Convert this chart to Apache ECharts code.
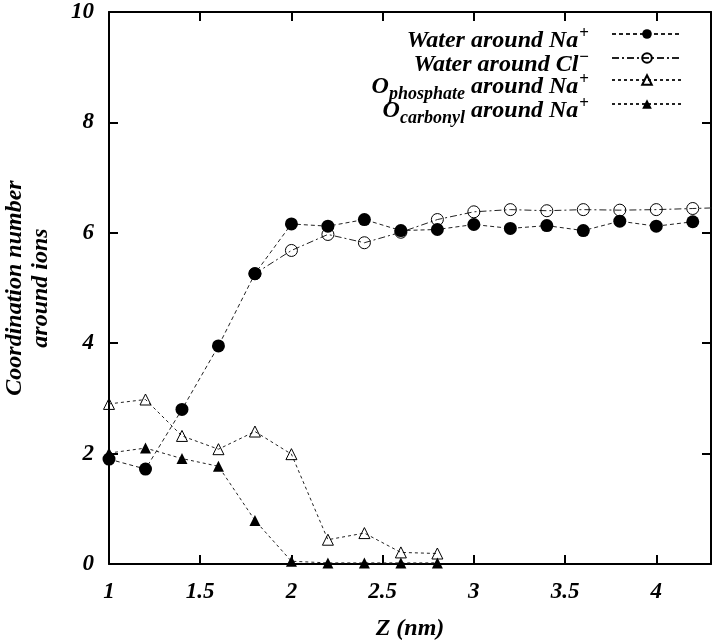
<!DOCTYPE html>
<html>
<head>
<meta charset="utf-8">
<script src="https://cdn.jsdelivr.net/npm/echarts@6/dist/echarts.min.js"></script>
<style>html,body{margin:0;padding:0;background:#fff}#c{width:720px;height:642px}</style>
</head>
<body>
<div id="c"></div>
<script>
var zNa   = [1.0,1.2,1.4,1.6,1.8,2.0,2.2,2.4,2.6,2.8,3.0,3.2,3.4,3.6,3.8,4.0,4.2];
var waterNa = [1.90,1.72,2.80,3.95,5.26,6.16,6.12,6.24,6.04,6.06,6.15,6.08,6.13,6.04,6.21,6.12,6.20];
var zCl   = [1.8,2.0,2.2,2.4,2.6,2.8,3.0,3.2,3.4,3.6,3.8,4.0,4.2,4.4];
var waterCl = [5.26,5.68,5.97,5.82,6.01,6.24,6.38,6.42,6.40,6.42,6.41,6.42,6.44,6.46];
var zO    = [1.0,1.2,1.4,1.6,1.8,2.0,2.2,2.4,2.6,2.8];
var oPhos = [2.90,2.98,2.32,2.08,2.40,1.99,0.44,0.56,0.21,0.19];
var oCarb = [2.01,2.10,1.91,1.77,0.79,0.05,0.02,0.02,0.02,0.02];
var names = ['Water around Na+','Water around Cl-','O phosphate around Na+','O carbonyl around Na+'];
var legendText = [
  '{m|Water around Na}{sup|+}',
  '{m|Water around Cl}{sup|\u2212}',
  '{m|O}{sub|phosphate}{m| around Na}{sup|+}',
  '{m|O}{sub|carbonyl}{m| around Na}{sup|+}'
];
var xTicks = [1,1.5,2,2.5,3,3.5,4];
var yTicks = [0,2,4,6,8,10];

function pairs(xs, ys){ return xs.map(function(x,i){ return [x, ys[i]]; }); }

var FONT = '"Liberation Serif", "DejaVu Serif", serif';
var tickStyle = {fontFamily: FONT, fontWeight: 'bold', fontStyle: 'italic', fontSize: 23, color: '#000'};
var nameStyle = {fontFamily: FONT, fontWeight: 'bold', fontStyle: 'italic', fontSize: 24, color: '#000'};

var legendRich = {
  m: {fontFamily: FONT, fontWeight: 'bold', fontStyle: 'italic', fontSize: 24, lineHeight: 40, verticalAlign: 'middle'},
  sup: {fontFamily: FONT, fontWeight: 'bold', fontStyle: 'normal', fontSize: 17, verticalAlign: 'top', padding: [4, 18, 0, 1]},
  sub: {fontFamily: FONT, fontWeight: 'bold', fontStyle: 'italic', fontSize: 18, verticalAlign: 'bottom', padding: [0, 0, 4, 0]}
};
var legendTops = [25, 49, 71, 95];
var legends = names.map(function(n, i){
  return {
    orient: 'vertical', align: 'right', right: 37, top: legendTops[i],
    itemWidth: 70, itemHeight: 12, padding: 0,
    data: [n],
    formatter: function(){ return legendText[i]; },
    textStyle: {fontFamily: FONT, color: '#000', padding: [14, 0, 0, 0], rich: legendRich}
  };
});

var chart = echarts.init(document.getElementById('c'), null, {renderer: 'canvas'});
var lineC = '#222';
chart.setOption({
  animation: false,
  backgroundColor: '#fff',
  grid: {left: 109, right: 9, top: 12, bottom: 78, containLabel: false, outerBoundsMode: 'none'},
  legend: legends,
  xAxis: [{
    type: 'value', min: 1, max: 4.3, interval: 0.5, position: 'bottom',
    name: 'Z (nm)', nameLocation: 'middle', nameGap: 53,
    nameTextStyle: nameStyle,
    axisLine: {show: true, onZero: false, lineStyle: {color: '#000', width: 2}},
    axisTick: {show: true, inside: true, length: 9, lineStyle: {color: '#000', width: 2}},
    axisLabel: Object.assign({margin: 17, showMaxLabel: false, formatter: function(v){ return xTicks.indexOf(v) >= 0 ? String(v) : ''; }}, tickStyle),
    splitLine: {show: false}
  }, {
    type: 'value', min: 1, max: 4.3, interval: 0.5, position: 'top',
    axisLine: {show: true, onZero: false, lineStyle: {color: '#000', width: 2}},
    axisTick: {show: true, inside: true, length: 9, lineStyle: {color: '#000', width: 2}},
    axisLabel: {show: false}, splitLine: {show: false}
  }],
  yAxis: [{
    type: 'value', min: 0, max: 10, interval: 2, position: 'left',
    name: 'Coordination number\naround ions', nameLocation: 'middle', nameGap: 55,
    nameTextStyle: Object.assign({lineHeight: 26}, nameStyle),
    axisLine: {show: true, onZero: false, lineStyle: {color: '#000', width: 2}},
    axisTick: {show: true, inside: true, length: 9, lineStyle: {color: '#000', width: 2}},
    axisLabel: Object.assign({margin: 15, formatter: function(v){ return yTicks.indexOf(v) >= 0 ? String(v) : ''; }}, tickStyle),
    splitLine: {show: false}
  }, {
    type: 'value', min: 0, max: 10, interval: 2, position: 'right',
    axisLine: {show: true, onZero: false, lineStyle: {color: '#000', width: 2}},
    axisTick: {show: true, inside: true, length: 9, lineStyle: {color: '#000', width: 2}},
    axisLabel: {show: false}, splitLine: {show: false}
  }],
  series: [{
    name: names[0], type: 'line', data: pairs(zNa, waterNa), clip: true,
    symbol: 'circle', symbolSize: 13,
    itemStyle: {color: '#000'},
    lineStyle: {color: lineC, width: 1, type: [4, 3]}
  }, {
    name: names[1], type: 'line', data: pairs(zCl, waterCl), clip: true, z: 1,
    symbol: 'circle', symbolSize: 12,
    itemStyle: {color: 'rgba(255,255,255,0)', borderColor: '#000', borderWidth: 1},
    lineStyle: {color: lineC, width: 1, type: [7, 3, 2, 3]}
  }, {
    name: names[2], type: 'line', data: pairs(zO, oPhos), clip: true,
    symbol: 'triangle', symbolSize: 11,
    itemStyle: {color: 'rgba(255,255,255,0)', borderColor: '#000', borderWidth: 1},
    lineStyle: {color: lineC, width: 1, type: [3, 3]}
  }, {
    name: names[3], type: 'line', data: pairs(zO, oCarb), clip: true,
    symbol: 'triangle', symbolSize: 11,
    itemStyle: {color: '#000'},
    lineStyle: {color: lineC, width: 1, type: [3, 3]}
  }]
});
</script>
</body>
</html>
